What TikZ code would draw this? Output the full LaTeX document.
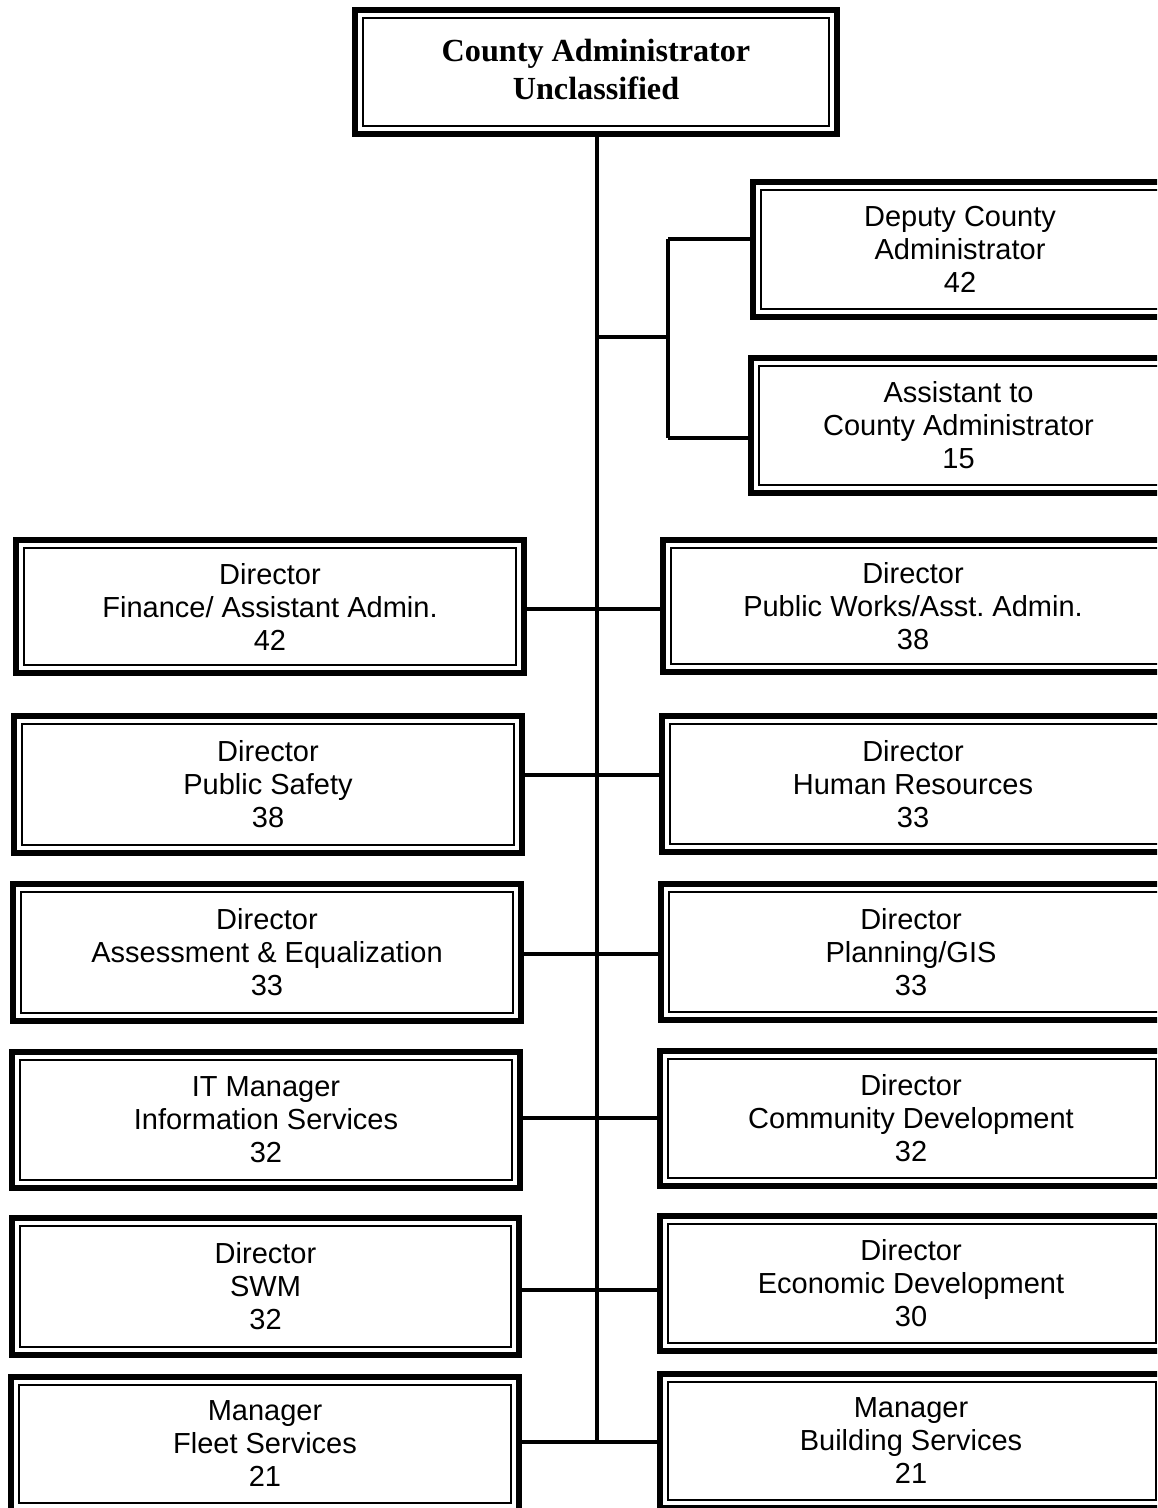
\documentclass[tikz,border=0pt]{standalone}
\usepackage{fontspec}
\setmainfont{Liberation Sans}
\newfontfamily\topfont{Liberation Serif}
\frenchspacing
\begin{document}
\begin{tikzpicture}[x=0.5pt,y=-0.5pt,
  box/.style={draw, rectangle, line width=3pt, inner sep=0pt, align=center, fill=white,
    font=\fontsize{14.5}{16.5}\selectfont,
    path picture={\draw[line width=1pt]
      ([shift={(4pt,-4pt)}]path picture bounding box.north west) rectangle
      ([shift={(-4pt,4pt)}]path picture bounding box.south east);}},
  sz/.style 2 args={minimum width=#1pt, minimum height=#2pt},
  topbox/.style={box, text depth=3pt, font=\topfont\bfseries\fontsize{16.1}{19}\selectfont},
  conn/.style={line width=1.75pt}]
\clip (0,0) rectangle (1157,1508);
\fill[white] (0,0) rectangle (1157,1508);

% spine coordinates
\coordinate (s0) at (597,137);
\coordinate (sb) at (597,337);
\coordinate (b1) at (668,337);
\coordinate (j1) at (597,609);
\coordinate (j2) at (597,775);
\coordinate (j3) at (597,954);
\coordinate (j4) at (597,1118);
\coordinate (j5) at (597,1290);
\coordinate (j6) at (597,1442);
\coordinate (d1) at (668,239);
\coordinate (d2) at (668,438);

% connectors (drawn first, boxes on top)
\draw[conn] (s0) -- (j6);
\draw[conn] (sb) -- (b1);
\draw[conn] (d1) -- (d2);

\node[topbox, sz={241}{62}] (ca) at (596,72) {County Administrator\\Unclassified};

\node[box, sz={211}{67.5}] (dep) at (964,249.5) {\hspace*{-4pt}Deputy County\\\hspace*{-4pt}Administrator\\\hspace*{-4pt}42};
\node[box, sz={211.5}{67.5}] (asst) at (962.5,425.5) {\hspace*{-4pt}Assistant to\\\hspace*{-4pt}County Administrator\\\hspace*{-4pt}15};

\node[box, sz={254}{66.5}] (fin) at (270,606.5) {Director\\Finance/ Assistant Admin.\\42};
\node[box, sz={254}{66}] (pw) at (917,606) {\hspace*{-4pt}Director\\\hspace*{-4pt}Public Works/Asst. Admin.\\\hspace*{-4pt}38};

\node[box, sz={254}{68.5}] (ps) at (268,784.5) {Director\\Public Safety\\38};
\node[box, sz={255}{68}] (hr) at (917,784) {\hspace*{-4pt}Director\\\hspace*{-4pt}Human Resources\\\hspace*{-4pt}33};

\node[box, sz={254}{68.5}] (ae) at (267,952.5) {Director\\Assessment \& Equalization\\33};
\node[box, sz={254}{68}] (pl) at (915,952) {\hspace*{-4pt}Director\\\hspace*{-4pt}Planning/GIS\\\hspace*{-4pt}33};

\node[box, sz={254}{68}] (it) at (266,1120) {IT Manager\\Information Services\\32};
\node[box, sz={252}{67.5}] (cd) at (912,1118.5) {\hspace*{-1pt}Director\\\hspace*{-1pt}Community Development\\\hspace*{-1pt}32};

\node[box, sz={253.5}{68.5}] (swm) at (265.5,1286.5) {Director\\SWM\\32};
\node[box, sz={252}{67.5}] (ed) at (912,1283.5) {\hspace*{-1pt}Director\\\hspace*{-1pt}Economic Development\\\hspace*{-1pt}30};

\node[box, sz={254}{67}] (fs) at (265,1444) {Manager\\Fleet Services\\21};
\node[box, sz={252}{67}] (bs) at (912,1441) {\hspace*{-1pt}Manager\\\hspace*{-1pt}Building Services\\\hspace*{-1pt}21};

\draw[conn] (d1) -- (d1 -| dep.west);
\draw[conn] (d2) -- (d2 -| asst.west);
\draw[conn] (j1 -| fin.east) -- (j1 -| pw.west);
\draw[conn] (j2 -| ps.east) -- (j2 -| hr.west);
\draw[conn] (j3 -| ae.east) -- (j3 -| pl.west);
\draw[conn] (j4 -| it.east) -- (j4 -| cd.west);
\draw[conn] (j5 -| swm.east) -- (j5 -| ed.west);
\draw[conn] (j6 -| fs.east) -- (j6 -| bs.west);
\end{tikzpicture}
\end{document}
